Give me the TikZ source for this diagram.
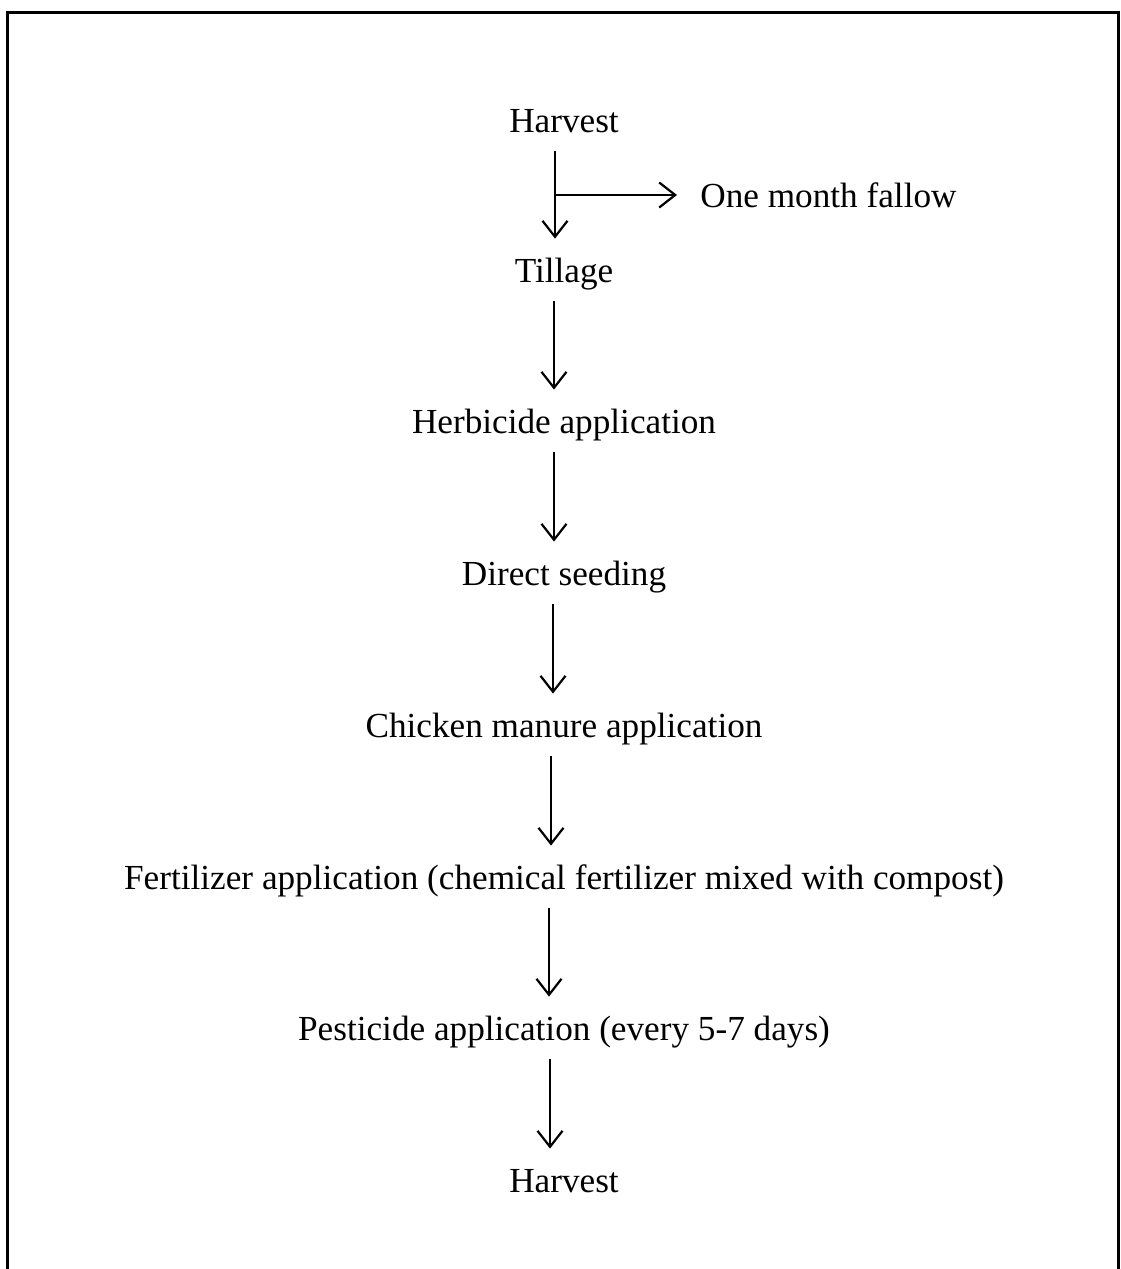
\documentclass[tikz,border=0pt]{standalone}
\usepackage{fontspec}
\setmainfont{Liberation Serif}
\usetikzlibrary{arrows.meta}

\begin{document}
\begin{tikzpicture}[x=0.5pt,y=-0.5pt,
    stage/.style={anchor=base,inner sep=0pt,text height=13pt,text depth=4pt,font=\fontsize{17.6}{21}\selectfont},
    flow/.style={-{Straight Barb[length=8pt,width=12.5pt]},line width=1.1pt,shorten <=5.5pt,shorten >=8.5pt}]
\useasboundingbox (0,0) rectangle (1120,1269);
% frame
\draw[line width=1.5pt] (7.5,1269) -- (7.5,12.5) -- (1118.5,12.5) -- (1118.5,1269);

\node[stage] (harvestA) at (564,132) {Harvest};
\node[stage] (tillage) at (564,282) {Tillage};
\node[stage] (herbicide) at (564,433) {Herbicide application};
\node[stage] (seeding) at (564,585) {Direct seeding};
\node[stage] (manure) at (564,737) {Chicken manure application};
\node[stage] (fertilizer) at (564,889) {Fertilizer application (chemical fertilizer mixed with compost)};
\node[stage] (pesticide) at (564,1040) {Pesticide application (every 5-7 days)};
\node[stage] (harvestB) at (564,1192) {Harvest};
\node[stage,anchor=base west] (fallow) at (700,207) {One month fallow};

\coordinate (split) at (555,195);

\path[flow] ([xshift=-4.5pt]harvestA.south) edge ([xshift=-4.5pt]tillage.north);
\path[flow,shorten <=0pt,shorten >=11.5pt] (split) edge (split -| fallow.west);
\path[flow] ([xshift=-5pt]tillage.south) edge ([xshift=-5pt]herbicide.north);
\path[flow] ([xshift=-5pt]herbicide.south) edge ([xshift=-5pt]seeding.north);
\path[flow] ([xshift=-5.5pt]seeding.south) edge ([xshift=-5.5pt]manure.north);
\path[flow] ([xshift=-6.5pt]manure.south) edge ([xshift=-6.5pt]fertilizer.north);
\path[flow] ([xshift=-7.5pt]fertilizer.south) edge ([xshift=-7.5pt]pesticide.north);
\path[flow] ([xshift=-7pt]pesticide.south) edge ([xshift=-7pt]harvestB.north);
\end{tikzpicture}
\end{document}
